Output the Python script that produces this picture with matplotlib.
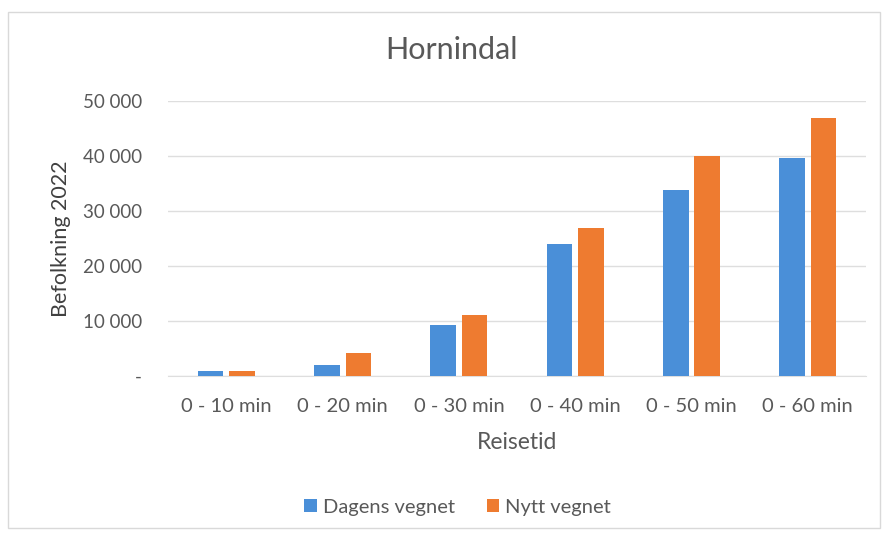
import numpy as np
import matplotlib.pyplot as plt
from matplotlib.patches import Rectangle

plt.rcParams['font.family'] = ['Lato', 'DejaVu Sans']

categories = ["0 - 10 min", "0 - 20 min", "0 - 30 min", "0 - 40 min", "0 - 50 min", "0 - 60 min"]
dagens = [950, 2100, 9300, 24000, 33800, 39700]
nytt = [1000, 4250, 11100, 26900, 40000, 47000]
yticks = [0, 10000, 20000, 30000, 40000, 50000]
ytick_labels = ["-", "10 000", "20 000", "30 000", "40 000", "50 000"]

blue = "#4a8fd8"
orange = "#ee7b30"
grey_text = "#595959"
grid_col = "#dedede"

fig = plt.figure(figsize=(8.85, 5.35), dpi=100)
ax = fig.add_axes([0.19, 0.297, 0.7885, 0.514])

x = np.arange(len(categories))
w = 0.22
ax.bar(x - 0.135, dagens, w, color=blue, label="Dagens vegnet", zorder=3)
ax.bar(x + 0.135, nytt, w, color=orange, label="Nytt vegnet", zorder=3)

ax.set_xlim(-0.5, len(categories) - 0.5)
ax.set_ylim(0, 50000)
ax.set_yticks(yticks)
ax.set_yticklabels(ytick_labels)
ax.set_xticks(x)
ax.set_xticklabels(categories)
ax.tick_params(axis='y', length=0, colors=grey_text, labelsize=13.5, pad=19)
ax.tick_params(axis='x', length=0, colors=grey_text, labelsize=14.5, pad=16)
ax.grid(axis='y', color=grid_col, linewidth=1, zorder=0)
for s in ['top', 'right', 'left']:
    ax.spines[s].set_visible(False)
ax.spines['bottom'].set_color(grid_col)

ax.set_ylabel("Befolkning 2022", fontsize=15.5, color="#404040", labelpad=8)
ax.set_xlabel("Reisetid", fontsize=16.5, color=grey_text, labelpad=12)
fig.text(0.51, 0.906, "Hornindal", ha='center', va='center', fontsize=22, color=grey_text)

fig.legend(loc='center', bbox_to_anchor=(0.517, 0.052), ncol=2, frameon=False,
           fontsize=14.5, handlelength=0.6, handleheight=0.6, handletextpad=0.3,
           columnspacing=1.6, labelcolor=grey_text)

# thin chart border
fig.patches.append(Rectangle((0.009, 0.013), 0.985, 0.965, transform=fig.transFigure,
                             fill=False, edgecolor="#d9d9d9", linewidth=1))

fig.savefig("out.png", dpi=100)
